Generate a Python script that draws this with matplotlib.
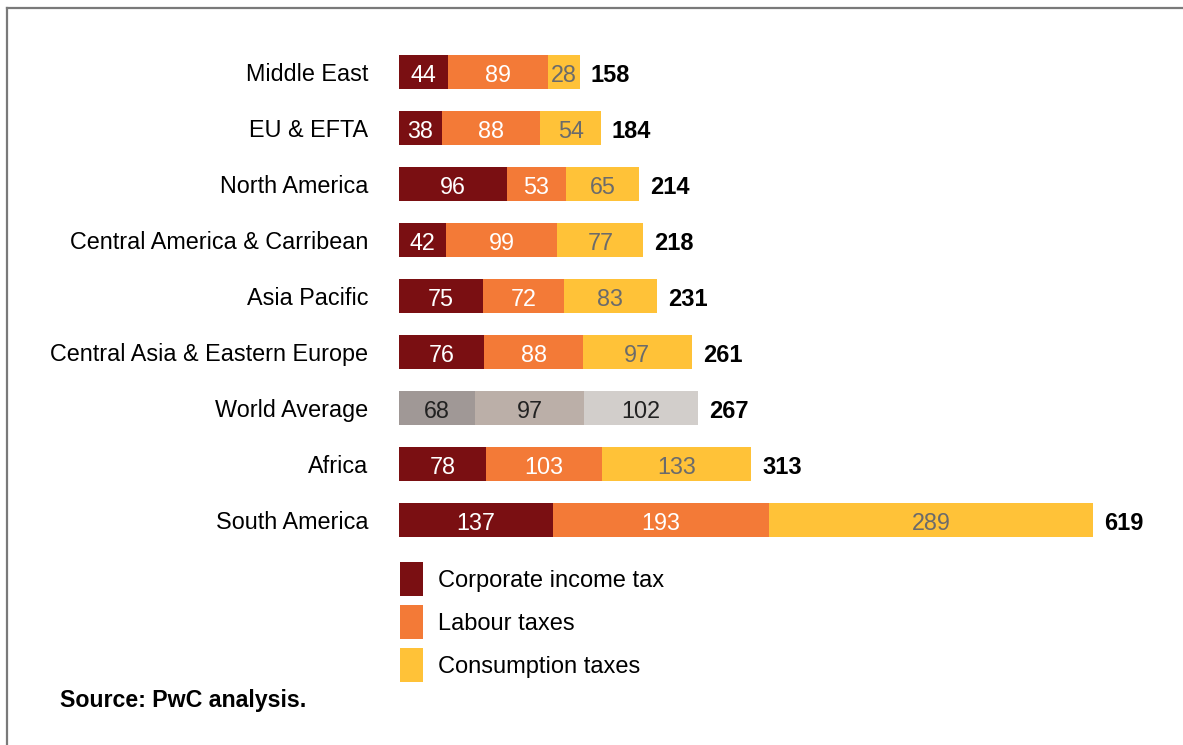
import matplotlib
matplotlib.use('Agg')
import matplotlib.pyplot as plt
from matplotlib.lines import Line2D
from matplotlib.patches import Patch

plt.rcParams['font.family'] = ['Liberation Sans', 'DejaVu Sans']

# 各地区税负构成
regions = ['Middle East', 'EU & EFTA', 'North America',
           'Central America & Carribean', 'Asia Pacific',
           'Central Asia & Eastern Europe', 'World Average', 'Africa',
           'South America']
corporate = [44, 38, 96, 42, 75, 76, 68, 78, 137]
labour = [89, 88, 53, 99, 72, 88, 97, 103, 193]
consumption = [28, 54, 65, 77, 83, 97, 102, 133, 289]
totals = [158, 184, 214, 218, 231, 261, 267, 313, 619]
series_names = ['Corporate income tax', 'Labour taxes', 'Consumption taxes']

colors = ['#7A0F12', '#F37A37', '#FFC238']
world_colors = ['#A09896', '#BBAFA8', '#D2CECB']
text_colors = ['white', 'white', '#6B6B6B']
world_text = '#222222'

W, H = 1183, 745
fig = plt.figure(figsize=(W / 100, H / 100), dpi=100)
ax = fig.add_axes([399 / W, 1 - 548 / H, 785 / W, 504 / H])

y = list(range(len(regions)))
left = [0] * len(regions)
for k, vals in enumerate([corporate, labour, consumption]):
    cols = [world_colors[k] if r == 'World Average' else colors[k] for r in regions]
    ax.barh(y, vals, left=left, height=0.61, color=cols, linewidth=0)
    for i, v in enumerate(vals):
        tc = world_text if regions[i] == 'World Average' else text_colors[k]
        ax.annotate(str(v), xy=(left[i] + v / 2, i), xytext=(0, -2.2),
                    textcoords='offset points', ha='center', va='center',
                    color=tc, fontsize=16.8)
    left = [a + b for a, b in zip(left, vals)]

# 合计数值
for i, t in enumerate(totals):
    ax.annotate(str(t), xy=(left[i], i), xytext=(8, -2.2), textcoords='offset points',
                ha='left', va='center', fontsize=17, fontweight='bold', color='black')

ax.set_xlim(0, 700)
ax.set_ylim(8.5, -0.5)
ax.set_yticks(y)
ax.set_yticklabels(regions, fontsize=16.8)
ax.tick_params(axis='y', length=0, pad=22)
ax.set_xticks([])
for s in ax.spines.values():
    s.set_visible(False)

# 图例（色块 23x34 像素，行距 43 像素）
handles = [Patch(facecolor=c, edgecolor='none') for c in colors]
fs = 17
px = fs * 100 / 72
fig.legend(handles, series_names, loc='upper left',
           bbox_to_anchor=(400 / W, 1 - 562 / H), frameon=False, fontsize=fs,
           handlelength=23 / px, handleheight=(34 / px - 0.245) / 0.65,
           labelspacing=9 / px, handletextpad=15 / px,
           borderpad=0, borderaxespad=0)

fig.text(60 / W, 1 - 700 / H, 'Source: PwC analysis.', fontsize=16.7,
         fontweight='bold', ha='left', va='center')

# 外框
fig.add_artist(Line2D([6.5 / W, 6.5 / W], [0, 1 - 8 / H], color='#7A7A7A', lw=1.6,
                      transform=fig.transFigure))
fig.add_artist(Line2D([6.5 / W, 1], [1 - 8 / H, 1 - 8 / H], color='#7A7A7A', lw=1.6,
                      transform=fig.transFigure))

fig.savefig('out.png', dpi=100, facecolor='white')
